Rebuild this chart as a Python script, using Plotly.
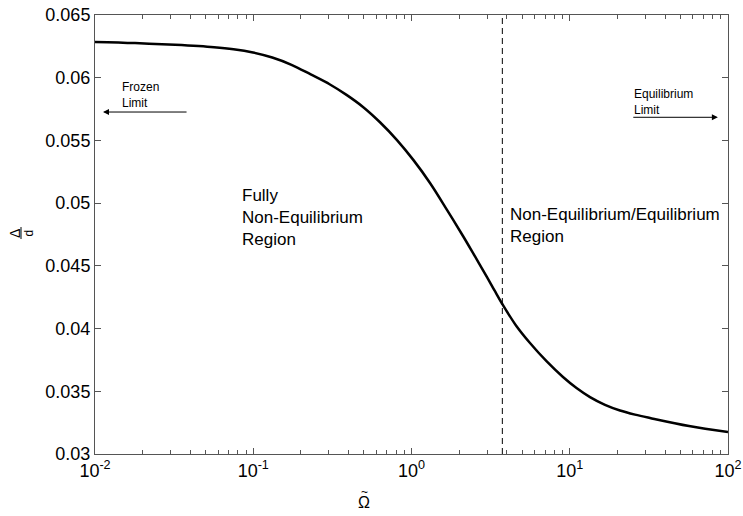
import plotly.graph_objects as go

# Dimensionless frequency (log10) and the corresponding Delta/d values
log_omega = [-2.0000, -1.7472, -1.4945, -1.2480, -1.1248, -1.0016, -0.8799, -0.7583,
             -0.6367, -0.5150, -0.4107, -0.3065, -0.1991, -0.0916, 0.0126, 0.1169,
             0.2212, 0.3254, 0.4013, 0.4771, 0.5245, 0.5719, 0.6603, 0.7488, 0.8531,
             0.9573, 1.0427, 1.1280, 1.2227, 1.3175, 1.4123, 1.5071, 1.7536, 2.0000]
delta_d = [0.06285, 0.06276, 0.06262, 0.06243, 0.06227, 0.06201, 0.06161, 0.06103,
           0.06026, 0.05946, 0.05863, 0.05767, 0.05645, 0.05503, 0.05343, 0.05161,
           0.04953, 0.04738, 0.04575, 0.04411, 0.04304, 0.04200, 0.04025, 0.03885,
           0.03740, 0.03614, 0.03526, 0.03454, 0.03392, 0.03347, 0.03314, 0.03287,
           0.03223, 0.03175]
omega = [10 ** v for v in log_omega]

# Boundary between the two regimes
omega_split = 3.75

x_tickvals = [1e-2, 1e-1, 1e0, 1e1, 1e2]
x_ticktext = ["10<sup>-2</sup>", "10<sup>-1</sup>", "10<sup>0</sup>",
              "10<sup>1</sup>", "10<sup>2</sup>"]
y_tickvals = [0.03, 0.035, 0.04, 0.045, 0.05, 0.055, 0.06, 0.065]
y_ticktext = ["0.03", "0.035", "0.04", "0.045", "0.05", "0.055", "0.06", "0.065"]

minor_x = [m * 10 ** e for e in range(-2, 2) for m in range(2, 10)]

FONT = "Liberation Sans, Arial, sans-serif"

fig = go.Figure()
fig.add_trace(go.Scatter(x=omega, y=delta_d, mode="lines",
                         line=dict(color="black", width=2.5, shape="spline",
                                   smoothing=1.0),
                         showlegend=False))
fig.add_trace(go.Scatter(x=[omega_split, omega_split], y=[0.03, 0.065], mode="lines",
                         line=dict(color="black", width=1, dash="6px,4px"),
                         showlegend=False))

axis_common = dict(showline=True, linecolor="#555555", linewidth=1, mirror="ticks",
                   ticks="inside", tickcolor="#555555", ticklen=6, showgrid=False,
                   zeroline=False, automargin=False,
                   tickfont=dict(family=FONT, size=18, color="black"))

fig.update_xaxes(type="log", range=[-2, 2], tickvals=x_tickvals, ticktext=x_ticktext,
                 minor=dict(tickvals=minor_x, ticks="inside", ticklen=4,
                            tickcolor="#555555", showgrid=False),
                 **axis_common)
fig.update_yaxes(range=[0.03, 0.065], tickvals=y_tickvals, ticktext=y_ticktext,
                 **axis_common)

XD, YD = "x domain", "y domain"
annotations = [
    # limit arrows
    dict(x=0.0126, y=0.779, ax=0.147, ay=0.779, xref=XD, yref=YD,
         axref=XD, ayref=YD, text="", showarrow=True, arrowhead=2,
         arrowsize=1.2, arrowwidth=1, arrowcolor="black"),
    dict(x=0.984, y=0.767, ax=0.848, ay=0.767, xref=XD, yref=YD,
         axref=XD, ayref=YD, text="", showarrow=True, arrowhead=2,
         arrowsize=1.2, arrowwidth=1, arrowcolor="black"),
    dict(x=0.0395, y=0.818, xref=XD, yref=YD, xanchor="left", yanchor="middle",
         text="Frozen<br>Limit", showarrow=False, align="left",
         font=dict(family=FONT, size=12, color="black")),
    dict(x=0.848, y=0.802, xref=XD, yref=YD, xanchor="left", yanchor="middle",
         text="Equilibrium<br>Limit", showarrow=False, align="left",
         font=dict(family=FONT, size=12, color="black")),
    # region labels
    dict(x=0.229, y=0.538, xref=XD, yref=YD, xanchor="left", yanchor="middle",
         text="Fully<br>Non-Equilibrium<br>Region", showarrow=False, align="left",
         font=dict(family=FONT, size=17, color="black")),
    dict(x=0.6524, y=0.521, xref=XD, yref=YD, xanchor="left", yanchor="middle",
         text="Non-Equilibrium/Equilibrium<br>Region", showarrow=False, align="left",
         font=dict(family=FONT, size=17, color="black")),
    # x-axis title: Omega with a tilde above it
    dict(x=0.425, y=-0.110, xref=XD, yref=YD, xanchor="center", yanchor="middle",
         text="\u03a9", showarrow=False,
         font=dict(family=FONT, size=16, color="black")),
    dict(x=0.425, y=-0.086, xref=XD, yref=YD, xanchor="center", yanchor="middle",
         text="~", showarrow=False,
         font=dict(family=FONT, size=12, color="black")),
    # y-axis title: Delta over d
    dict(x=-0.1264, y=0.5034, xref=XD, yref=YD, xanchor="center", yanchor="middle",
         text="\u0394", showarrow=False, textangle=-90,
         font=dict(family=FONT, size=14, color="black")),
    dict(x=-0.1035, y=0.5034, xref=XD, yref=YD, xanchor="center", yanchor="middle",
         text="d", showarrow=False, textangle=-90,
         font=dict(family=FONT, size=12, color="black")),
]

fig.add_shape(type="line", xref="paper", yref="paper",
              x0=-0.1169, x1=-0.1169, y0=0.4897, y1=0.517,
              line=dict(color="black", width=1))

fig.update_layout(width=743, height=516, margin=dict(l=95, r=15, t=15, b=62),
                  paper_bgcolor="white", plot_bgcolor="white",
                  annotations=annotations, showlegend=False)

fig.write_html("out.html")
